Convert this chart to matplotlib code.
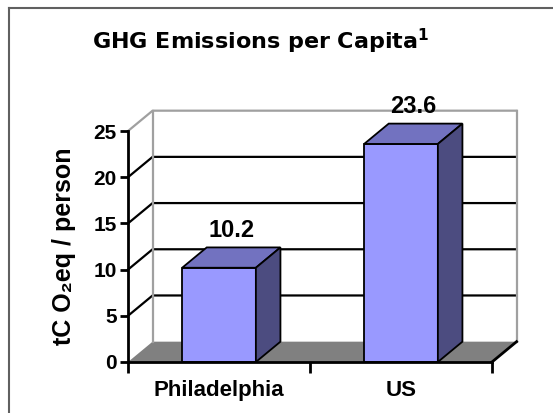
import matplotlib.pyplot as plt
from matplotlib.patches import Polygon, Rectangle
from matplotlib.lines import Line2D

plt.rcParams['font.family'] = ['Liberation Sans', 'DejaVu Sans']

categories = ['Philadelphia', 'US']
values = [10.2, 23.6]
yticks = [0, 5, 10, 15, 20, 25]

front_col = '#9999ff'
top_col = '#7272c0'
side_col = '#4c4c80'
floor_col = '#808080'
wall_col = '#a0a0a0'

# depth of the 3D box, in data units (x: categories, y: values)
DX, DY = 0.135, 2.2
bar_w = 0.405

fig = plt.figure(figsize=(5.53, 4.13), dpi=100)
ax = fig.add_axes([0.2315, 0.1235, 0.6582, 0.5593])
ax.set_xlim(0, len(categories))
ax.set_ylim(0, 25)
ax.patch.set_visible(False)

# floor
nx = len(categories)
ax.add_patch(Polygon([(0, 0), (nx, 0), (nx + DX, DY), (DX, DY)], closed=True,
                     facecolor=floor_col, edgecolor='none', clip_on=False, zorder=1))
ax.add_artist(Line2D([nx, nx + DX], [0, DY], color='black', lw=2, clip_on=False, zorder=2))

# walls: back and side, with grid lines
for v in yticks[1:]:
    c = wall_col if v == yticks[-1] else 'black'
    ax.add_artist(Line2D([0, DX, nx + DX], [v, v + DY, v + DY], color=c, lw=1.6,
                         clip_on=False, zorder=1))
for xv in (DX, nx + DX):
    ax.add_artist(Line2D([xv, xv], [DY, yticks[-1] + DY], color=wall_col, lw=1.6,
                         clip_on=False, zorder=1))

# bars
for i, v in enumerate(values):
    x0 = i + 0.5 - bar_w / 2
    x1 = i + 0.5 + bar_w / 2
    ax.add_patch(Rectangle((x0, 0), bar_w, v, facecolor=front_col, edgecolor='black',
                           lw=1.3, clip_on=False, zorder=3))
    ax.add_patch(Polygon([(x0, v), (x1, v), (x1 + DX, v + DY), (x0 + DX, v + DY)],
                         closed=True, facecolor=top_col, edgecolor='black', lw=1.3,
                         clip_on=False, zorder=3))
    ax.add_patch(Polygon([(x1, 0), (x1 + DX, DY), (x1 + DX, v + DY), (x1, v)],
                         closed=True, facecolor=side_col, edgecolor='black', lw=1.3,
                         clip_on=False, zorder=3))
    ax.text(i + 0.5 + DX / 2, v + DY + 1.8, f'{v:.1f}', ha='center', va='center',
            fontsize=17, fontweight='bold', zorder=4)

# axes
for s in ('top', 'right'):
    ax.spines[s].set_visible(False)
for s in ('left', 'bottom'):
    ax.spines[s].set_linewidth(2)
    ax.spines[s].set_zorder(5)

ax.set_yticks(yticks)
ax.set_yticklabels([str(t) for t in yticks], fontsize=15, fontweight='bold')
ax.tick_params(axis='y', direction='out', length=6, width=2, pad=2)

ax.set_xticks([i + 0.5 for i in range(nx)])
ax.set_xticklabels(categories, fontsize=16, fontweight='bold')
ax.set_xticks(range(nx + 1), minor=True)
ax.tick_params(axis='x', which='major', length=0, pad=13)
ax.tick_params(axis='x', which='minor', direction='out', length=8, width=2)

fig.text(0.116, 0.404, 'tC O\u2082eq / person', rotation=90, ha='center', va='center',
         fontsize=18, fontweight='bold')

fig.text(0.472, 0.9, r'GHG Emissions per Capita$^\mathbf{1}$', ha='center', va='center',
         fontsize=16, fontweight='bold', family='DejaVu Sans')

# slide frame
fig.add_artist(Line2D([9 / 553, 1], [1 - 8 / 413, 1 - 8 / 413], color='#606060', lw=1.5))
fig.add_artist(Line2D([9 / 553, 9 / 553], [0, 1 - 8 / 413], color='#606060', lw=1.5))

fig.savefig('out.png', dpi=100)
